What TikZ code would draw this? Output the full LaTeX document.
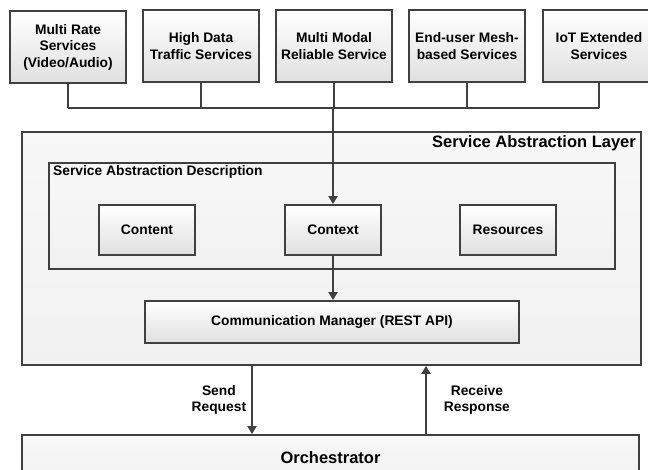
\documentclass[tikz,border=0pt]{standalone}
\usepackage{fontspec}
\setmainfont{Liberation Sans}
\usepackage{tikz}
\usetikzlibrary{positioning, arrows.meta}
\definecolor{edge}{RGB}{64, 64, 64}
\definecolor{shade}{RGB}{224, 224, 224}
\definecolor{pale}{RGB}{243, 243, 243}
\newcommand*{\fs}{\fontsize{13.8}{16.5}\selectfont\bfseries}
\newcommand*{\fl}{\fontsize{16.5}{19}\selectfont\bfseries}

\begin{document}
\begin{tikzpicture}[
   x=1pt, y=-1pt,
   svcbox/.style={rectangle, draw=edge, line width=1.8pt, top color=white, bottom color=shade,
                  align=center, inner sep=2, minimum width=116, minimum height=72, font=\fs},
   layerbox/.style={rectangle, draw=edge, line width=1.8pt, top color=white!40!pale, bottom color=pale!90!shade,
                    inner sep=0},
   partbox/.style={rectangle, draw=edge, line width=1.8pt, top color=white, bottom color=shade,
                   inner sep=2, minimum width=96, minimum height=50, font=\fs},
   wire/.style={draw=edge, line width=1.8pt},
   arr/.style={draw=edge, line width=1.8pt, -{Triangle[length=8pt, width=9pt]}},
   lbl/.style={inner sep=0, align=center, font=\fs}
  ]

  \useasboundingbox (0, 0) rectangle (648, 470);

  % Services
  \node (S1) at (68, 47) [svcbox] {Multi Rate\\Services\\(Video/Audio)};
  \node (S2) at (201, 46) [svcbox] {High Data\\Traffic Services};
  \node (S3) at (334, 46) [svcbox] {Multi Modal\\Reliable Service};
  \node (S4) at (467, 46) [svcbox] {End-user Mesh-\\based Services};
  \node (S5) at (599, 46) [svcbox, minimum width=112] {IoT Extended\\Services};

  \coordinate (bus) at (0, 108);
  \foreach \B in {S1, S2, S3, S4, S5} {
    \draw[wire] (\B.south) -- (\B.south |- bus);
  }
  \draw[wire] (S1.south |- bus) -- (S5.south |- bus);

  % Service Abstraction Layer
  \node (SAL) at (331.5, 248.5) [layerbox, minimum width=619, minimum height=233] {};
  \node (SALlbl) at (636, 143) [lbl, anchor=east, font=\fl] {Service Abstraction Layer};

  \node (SAD) at (332, 216) [layerbox, minimum width=566, minimum height=106] {};
  \node (SADlbl) at (53, 172) [lbl, anchor=west] {Service Abstraction Description};

  \node (Cnt) at (147, 230) [partbox] {Content};
  \node (Ctx) at (333, 230) [partbox] {Context};
  \node (Res) at (508, 230) [partbox] {Resources};

  \node (Comm) at (332, 322) [partbox, minimum width=374, minimum height=42] {Communication Manager (REST API)};

  \draw[arr] (Ctx.north |- bus) -- (Ctx.north);
  \draw[arr] (Ctx.south) -- (Ctx.south |- Comm.north);

  % Orchestrator
  \node (Orch) at (330.5, 457.5) [layerbox, minimum width=617, minimum height=45, font=\fl] {Orchestrator};

  \draw[arr] ([xshift=-79.5]SAL.south) -- ([xshift=-79.5]SAL.south |- Orch.north)
    node (sendlbl) [lbl, midway, left=5pt] {Send\\Request};
  \draw[arr] ([xshift=94.5]SAL.south |- Orch.north) -- ([xshift=94.5]SAL.south)
    node (recvlbl) [lbl, midway, right=17pt] {Receive\\Response};

\end{tikzpicture}
\end{document}
